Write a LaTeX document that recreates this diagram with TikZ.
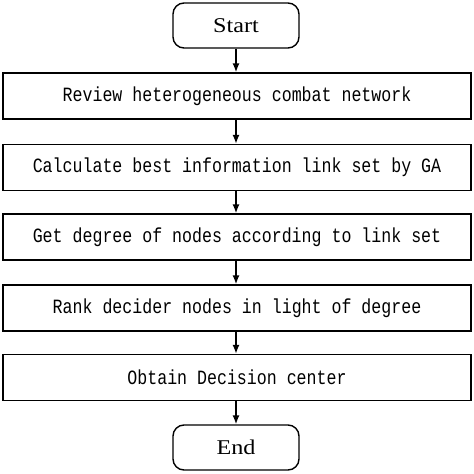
\documentclass[tikz,border=0pt]{standalone}
\usepackage{fontspec}
\setmainfont{Liberation Serif}
\newfontfamily\monofnt{Liberation Mono}
\usetikzlibrary{arrows.meta}
\newcommand{\tallmono}[1]{\scalebox{1}[1.22]{#1}}
\begin{document}
\begin{tikzpicture}[x=1pt,y=-1pt,
  stepbox/.style={draw, line width=1.4pt, minimum width=468pt, minimum height=46pt, inner sep=0pt,
    font=\monofnt\fontsize{16.6}{18}\selectfont},
  termbox/.style={draw, line width=1.4pt, rounded corners=11pt, minimum width=126pt, minimum height=45pt, inner sep=0pt,
    font=\fontsize{21}{24}\selectfont},
  conn/.style={line width=1.4pt, -{Latex[length=9pt,width=7pt]}}]
\useasboundingbox (0,0) rectangle (474,474);
\fill[white] (0,0) rectangle (474,474);
\node[termbox] (start) at (236,25.5) {\scalebox{1.15}[1]{Start}};
\node[stepbox] (b1) at (237,96) {\tallmono{Review heterogeneous combat network}};
\node[stepbox] (b2) at (237,167.5) {\tallmono{Calculate best information link set by GA}};
\node[stepbox] (b3) at (237,237) {\tallmono{Get degree of nodes according to link set}};
\node[stepbox] (b4) at (237,308) {\tallmono{Rank decider nodes in light of degree}};
\node[stepbox] (b5) at (237,377.5) {\tallmono{Obtain Decision center}};
\node[termbox] (end) at (236,447.5) {\scalebox{1.15}[1]{End}};
\draw[conn] (start) -- (start|-b1.north);
\draw[conn] (b1.south-|start) -- (start|-b2.north);
\draw[conn] (b2.south-|start) -- (start|-b3.north);
\draw[conn] (b3.south-|start) -- (start|-b4.north);
\draw[conn] (b4.south-|start) -- (start|-b5.north);
\draw[conn] (b5.south-|start) -- (end);
\end{tikzpicture}
\end{document}
